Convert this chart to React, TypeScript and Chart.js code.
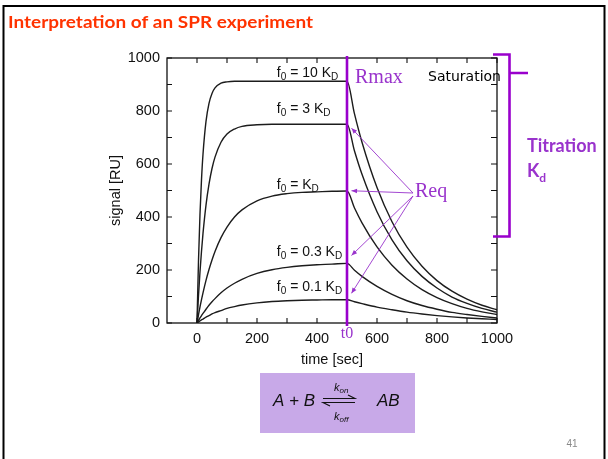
import React, { useEffect, useRef } from 'react';
import { Chart, registerables } from 'chart.js';

Chart.register(...registerables);

// ---- data ----
const timeSec = [0, 5, 10, 15, 20, 30, 40, 50, 60, 80, 100, 125, 150, 200, 250, 300, 350, 400, 450, 500,
  525, 550, 600, 650, 700, 750, 800, 850, 900, 950, 1000];

const f0_10KD = [0, 236, 412, 541, 637, 761, 829, 866, 887, 905, 910, 912, 912, 912, 912, 912, 912, 912, 912, 912,
  789, 682, 511, 382, 286, 214, 160, 120, 90, 67, 50];
const f0_3KD = [0, 104, 194, 271, 338, 445, 524, 583, 626, 682, 713, 732, 742, 748, 750, 750, 750, 750, 750, 750,
  649, 561, 420, 314, 235, 176, 132, 98, 74, 55, 41];
const f0_1KD = [0, 31, 61, 88, 114, 161, 202, 238, 270, 322, 362, 400, 427, 461, 479, 488, 493, 495, 497, 498,
  434, 378, 287, 218, 166, 126, 96, 73, 55, 42, 32];
const f0_03KD = [0, 10, 19, 28, 36, 52, 67, 80, 92, 114, 132, 150, 165, 187, 201, 210, 216, 220, 222, 225,
  199, 176, 138, 108, 84, 66, 52, 40, 32, 25, 19];
const f0_01KD = [0, 4, 8, 12, 15, 22, 28, 34, 39, 47, 55, 62, 68, 76, 81, 84, 86, 87, 88, 88,
  80, 73, 60, 50, 41, 34, 28, 23, 19, 16, 13];

const seriesValues = [f0_10KD, f0_3KD, f0_1KD, f0_03KD, f0_01KD];
const curveCoefs = ['10', '3', '', '0.3', '0.1'];
// label anchor (time, signal) of each curve label (baseline)
const labelTime = 266;
const labelSignal = [927, 793, 506, 253, 121];

const xTickValues = [0, 200, 400, 600, 800, 1000];
const yTickValues = [0, 200, 400, 600, 800, 1000];
const minorStep = 100;
const t0Value = 500;
const reqTime = 515;
const reqTargets = [735, 499, 255, 112];

const PURPLE = '#9900cc';
const PURPLE_TXT = '#9933cc';
const SANS = '"Liberation Sans", Arial, sans-serif';
const SERIF = '"Liberation Serif", "Times New Roman", serif';

function arrowTo(ctx: CanvasRenderingContext2D, x1: number, y1: number, x2: number, y2: number, size: number) {
  ctx.beginPath();
  ctx.moveTo(x1, y1);
  ctx.lineTo(x2, y2);
  ctx.stroke();
  const a = Math.atan2(y2 - y1, x2 - x1);
  ctx.beginPath();
  ctx.moveTo(x2, y2);
  ctx.lineTo(x2 - size * Math.cos(a - 0.4), y2 - size * Math.sin(a - 0.4));
  ctx.lineTo(x2 - size * Math.cos(a + 0.4), y2 - size * Math.sin(a + 0.4));
  ctx.closePath();
  ctx.fill();
}

function fLabel(ctx: CanvasRenderingContext2D, x: number, y: number, coef: string) {
  ctx.textAlign = 'left';
  ctx.textBaseline = 'alphabetic';
  ctx.fillStyle = '#111';
  ctx.font = `14px ${SANS}`;
  ctx.fillText('f', x, y);
  x += ctx.measureText('f').width;
  ctx.font = `10px ${SANS}`;
  ctx.fillText('0', x, y + 3);
  x += ctx.measureText('0').width;
  ctx.font = `14px ${SANS}`;
  const mid = ' = ' + (coef ? coef + ' ' : '') + 'K';
  ctx.fillText(mid, x, y);
  x += ctx.measureText(mid).width;
  ctx.font = `10px ${SANS}`;
  ctx.fillText('D', x, y + 3);
}

const decor = {
  id: 'decor',
  beforeDraw(chart: any) {
    const ctx = chart.ctx as CanvasRenderingContext2D;
    ctx.save();
    ctx.fillStyle = '#fff';
    ctx.fillRect(0, 0, chart.width, chart.height);
    ctx.restore();
  },
  afterDraw(chart: any) {
    const ctx = chart.ctx as CanvasRenderingContext2D;
    const xs = chart.scales.x;
    const ys = chart.scales.y;
    const { left, right, top, bottom } = chart.chartArea;
    ctx.save();

    // slide border
    ctx.strokeStyle = '#000';
    ctx.lineWidth = 2;
    ctx.beginPath();
    ctx.moveTo(3.5, 470);
    ctx.lineTo(3.5, 6);
    ctx.lineTo(604.5, 6);
    ctx.lineTo(604.5, 470);
    ctx.stroke();

    // title
    ctx.fillStyle = '#ff3300';
    ctx.font = `bold 17px Lato, "Open Sans", sans-serif`;
    ctx.textAlign = 'left';
    ctx.textBaseline = 'alphabetic';
    const title = 'Interpretation of an SPR experiment';
    const tw = ctx.measureText(title).width;
    ctx.save();
    ctx.translate(8, 28);
    ctx.scale(305 / tw, 1);
    ctx.fillText(title, 0, 0);
    ctx.restore();

    // plot frame with inward ticks
    ctx.strokeStyle = '#111';
    ctx.lineWidth = 1.3;
    ctx.strokeRect(left, top, right - left, bottom - top);
    ctx.lineWidth = 1.1;
    ctx.beginPath();
    for (let v = 0; v <= 1000; v += minorStep) {
      const px = xs.getPixelForValue(v);
      ctx.moveTo(px, bottom); ctx.lineTo(px, bottom - 5);
      ctx.moveTo(px, top); ctx.lineTo(px, top + 5);
      const py = ys.getPixelForValue(v);
      ctx.moveTo(left, py); ctx.lineTo(left + 5, py);
      ctx.moveTo(right, py); ctx.lineTo(right - 6, py);
    }
    ctx.stroke();

    // axis titles
    ctx.fillStyle = '#111';
    ctx.font = `14.5px ${SANS}`;
    ctx.textAlign = 'center';
    ctx.fillText('time [sec]', (xs.getPixelForValue(-100) + xs.getPixelForValue(1000)) / 2 + 0, 364);
    ctx.save();
    ctx.translate(120, (top + bottom) / 2);
    ctx.rotate(-Math.PI / 2);
    ctx.textBaseline = 'alphabetic';
    ctx.fillText('signal [RU]', 0, 0);
    ctx.restore();

    // curve labels
    seriesValues.forEach((_, i) => {
      fLabel(ctx, xs.getPixelForValue(labelTime), ys.getPixelForValue(labelSignal[i]), curveCoefs[i]);
    });

    // t0 vertical line
    const xt0 = xs.getPixelForValue(t0Value);
    ctx.strokeStyle = PURPLE;
    ctx.lineWidth = 2.6;
    ctx.beginPath();
    ctx.moveTo(xt0, top - 2);
    ctx.lineTo(xt0, bottom + 3);
    ctx.stroke();
    ctx.fillStyle = PURPLE_TXT;
    ctx.font = `16px ${SERIF}`;
    ctx.textAlign = 'center';
    ctx.textBaseline = 'alphabetic';
    ctx.fillText('t0', xt0, 338);

    // Rmax, Req
    ctx.font = `20px ${SERIF}`;
    ctx.textAlign = 'left';
    ctx.fillText('Rmax', 355, 83);
    ctx.fillText('Req', 415, 197);

    // Req arrows
    ctx.strokeStyle = PURPLE_TXT;
    ctx.fillStyle = PURPLE_TXT;
    ctx.lineWidth = 0.9;
    reqTargets.forEach((v, i) => {
      arrowTo(ctx, 413, i < 2 ? 193 : 196, xs.getPixelForValue(reqTime), ys.getPixelForValue(v), 6);
    });

    // Saturation
    ctx.fillStyle = '#000';
    ctx.font = `14px "DejaVu Sans", sans-serif`;
    ctx.fillText('Saturation', 428, 81);

    // bracket
    ctx.strokeStyle = PURPLE;
    ctx.lineWidth = 2.6;
    ctx.beginPath();
    ctx.moveTo(493, 54.5);
    ctx.lineTo(509.5, 54.5);
    ctx.lineTo(509.5, 236.5);
    ctx.lineTo(493, 236.5);
    ctx.moveTo(509.5, 73);
    ctx.lineTo(528, 73);
    ctx.stroke();

    // Titration Kd
    ctx.fillStyle = PURPLE_TXT;
    ctx.font = `bold 18px Lato, "Open Sans", sans-serif`;
    ctx.fillText('Titration', 527, 152);
    ctx.fillText('K', 527, 177);
    const kw = ctx.measureText('K').width;
    ctx.font = `bold 12px Lato, "Open Sans", sans-serif`;
    ctx.fillText('d', 527 + kw, 182);

    // reaction box
    ctx.fillStyle = '#c8a9e8';
    ctx.fillRect(260, 373, 155, 60);
    ctx.fillStyle = '#111';
    ctx.font = `italic 17px ${SANS}`;
    ctx.fillText('A + B', 273, 406);
    ctx.fillText('AB', 377, 406);
    ctx.strokeStyle = '#111';
    ctx.lineWidth = 1.1;
    ctx.beginPath();
    ctx.moveTo(323, 398.5); ctx.lineTo(355, 398.5); ctx.lineTo(348, 395);
    ctx.moveTo(355, 402.5); ctx.lineTo(323, 402.5); ctx.lineTo(330, 406);
    ctx.stroke();
    ctx.font = `italic 11px ${SANS}`;
    ctx.fillText('k', 334, 391);
    ctx.fillText('k', 334, 420);
    const kk = ctx.measureText('k').width;
    ctx.font = `italic 8px ${SANS}`;
    ctx.fillText('on', 334 + kk, 393);
    ctx.fillText('off', 334 + kk, 422);

    // page number
    ctx.fillStyle = '#888';
    ctx.font = `10px ${SANS}`;
    ctx.textAlign = 'center';
    ctx.fillText('41', 572, 447);

    ctx.restore();
  },
};

export default function App() {
  const ref = useRef<HTMLCanvasElement>(null);
  useEffect(() => {
    const chart = new Chart(ref.current as HTMLCanvasElement, {
      type: 'line',
      data: {
        datasets: seriesValues.map((vals, i) => ({
          label: 'f0 = ' + curveCoefs[i] + ' KD',
          data: timeSec.map((t, j) => ({ x: t, y: vals[j] })),
          borderColor: '#1c1c1c',
          borderWidth: 1.4,
          pointRadius: 0,
          cubicInterpolationMode: 'monotone' as const,
          fill: false,
        })),
      },
      options: {
        animation: false,
        responsive: false,
        devicePixelRatio: 1,
        layout: { padding: { left: 127, top: 58, right: 111, bottom: 106 } },
        plugins: { legend: { display: false }, tooltip: { enabled: false }, title: { display: false } },
        scales: {
          x: {
            type: 'linear',
            min: -100,
            max: 1000,
            afterBuildTicks: (s: any) => { s.ticks = xTickValues.map((v) => ({ value: v })); },
            afterFit: (s: any) => { s.height = 30; },
            grid: { display: false, drawTicks: false },
            border: { display: false },
            ticks: {
              padding: 7,
              color: '#111',
              font: { family: SANS, size: 14.5 },
              maxRotation: 0,
              autoSkip: false,
              callback: (v: any) => String(v),
            },
          },
          y: {
            type: 'linear',
            min: 0,
            max: 1000,
            afterBuildTicks: (s: any) => { s.ticks = yTickValues.map((v) => ({ value: v })); },
            afterFit: (s: any) => { s.width = 40; },
            grid: { display: false, drawTicks: false },
            border: { display: false },
            ticks: {
              padding: 7,
              color: '#111',
              font: { family: SANS, size: 14.5 },
              autoSkip: false,
              callback: (v: any) => String(v),
            },
          },
        },
      } as any,
      plugins: [decor],
    });
    return () => chart.destroy();
  }, []);
  return (
    <div style={{ position: 'absolute', left: 0, top: 0, width: 608, height: 459, background: '#fff' }}>
      <canvas ref={ref} width={608} height={459} style={{ display: 'block', width: 608, height: 459 }} />
    </div>
  );
}
